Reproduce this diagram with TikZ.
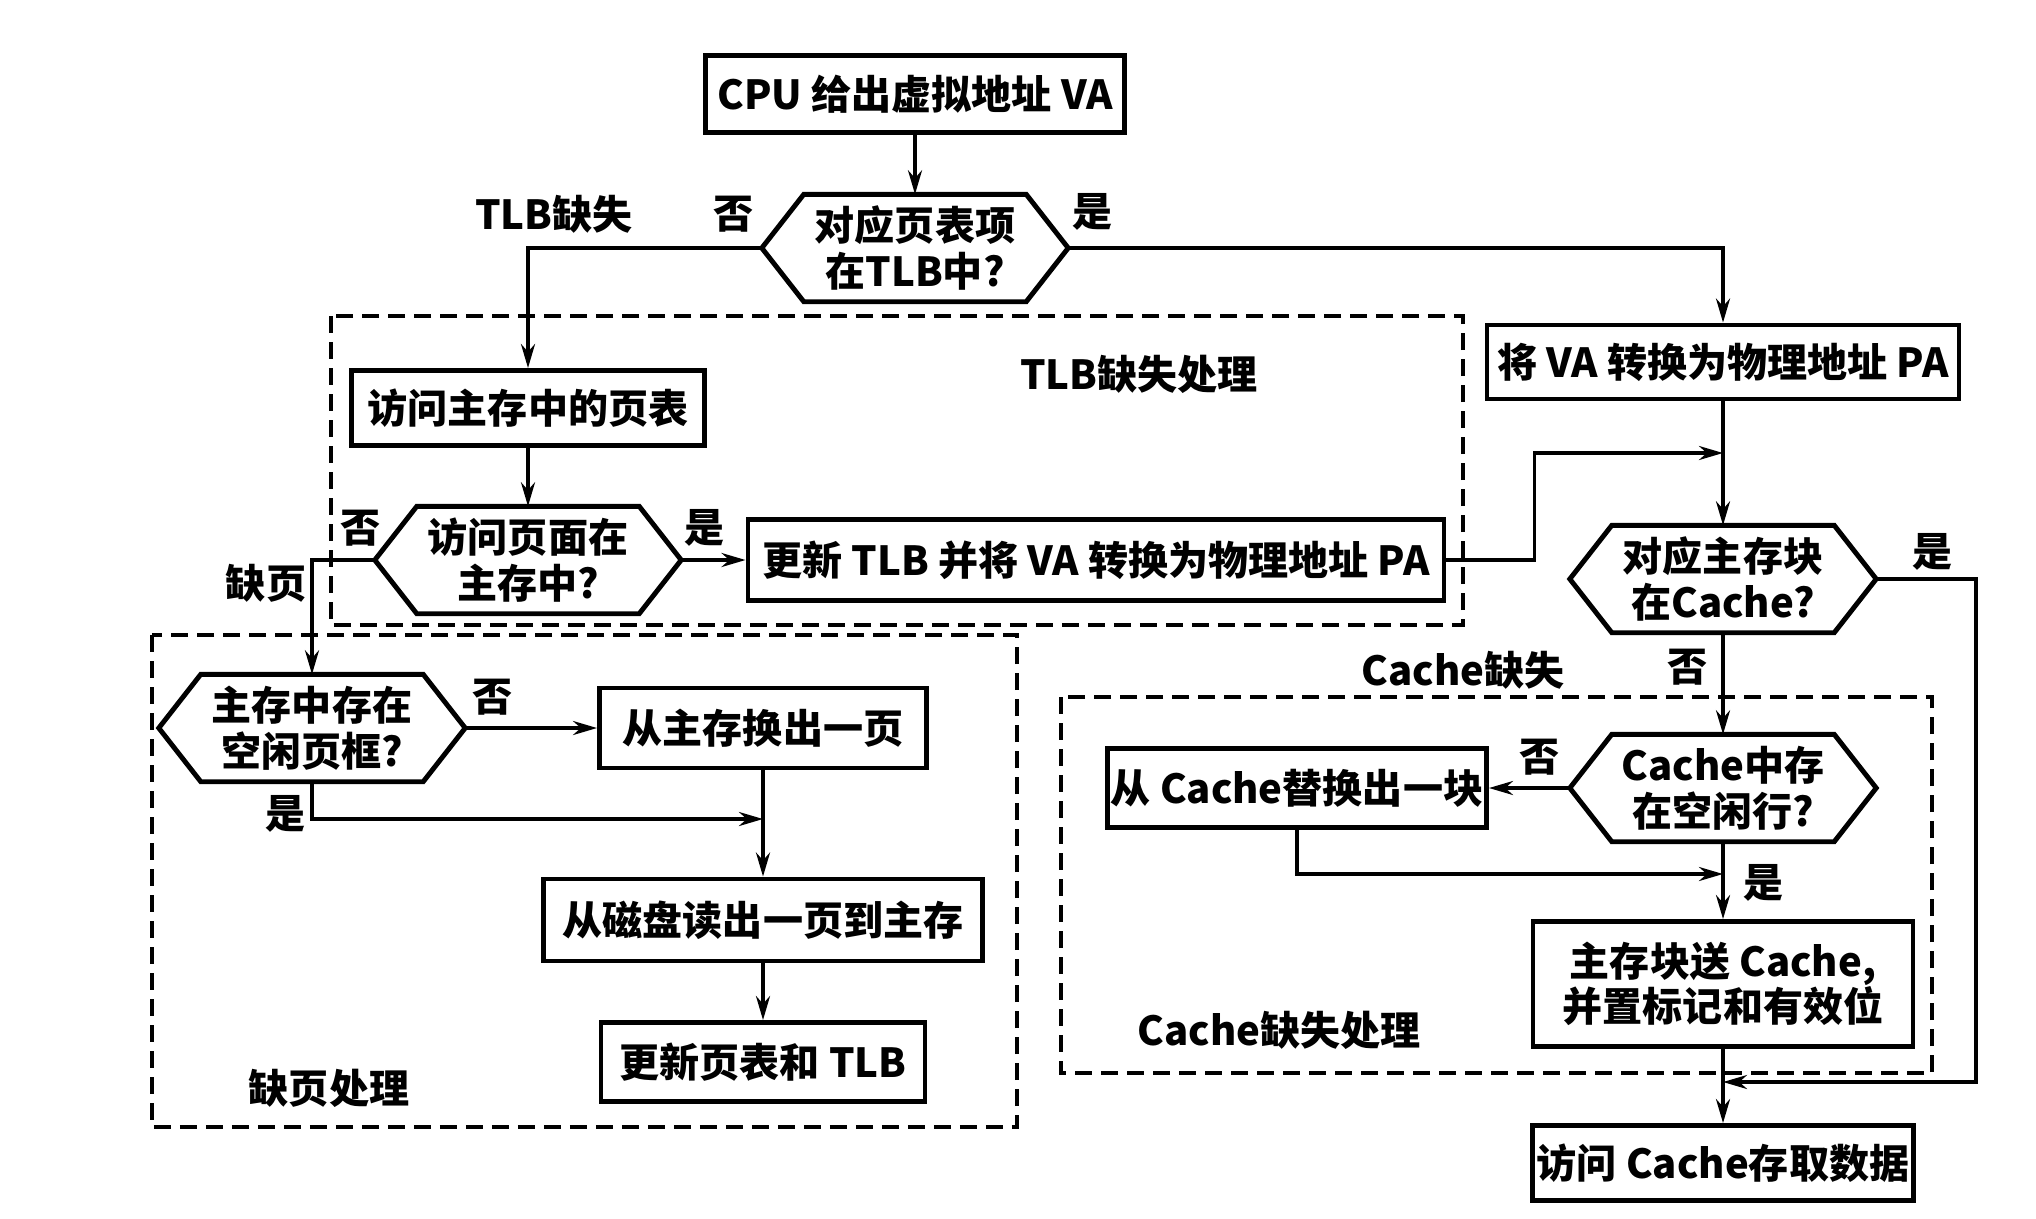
\documentclass[tikz,border=0pt]{standalone}
\usepackage{fontspec}
\setmainfont{Noto Sans CJK SC}
\usetikzlibrary{arrows.meta,calc}
\begin{document}
\begin{tikzpicture}[
  txt/.style={font=\fontsize{11.4}{13}\selectfont\bfseries, align=center, inner sep=0pt},
  box/.style={txt, draw, line width=1.4pt, rectangle},
  dec/.style={txt, rectangle, minimum width=3.05cm, minimum height=1.06cm},
  conn/.style={line width=1.0pt, -{Stealth[length=0.24cm,width=0.14cm]}},
  grp/.style={draw, line width=1.1pt, dash pattern=on 0.17cm off 0.09cm},
  lbl/.style={txt}
]
\useasboundingbox (0,0) rectangle (20.36,-12.18);

% dashed groups
\draw[grp] (3.31,-3.16) rectangle (14.63,-6.25);
\draw[grp] (1.52,-6.35) rectangle (10.17,-11.27);
\draw[grp] (10.61,-6.97) rectangle (19.32,-10.73);

% nodes
\node[box, minimum width=4.19cm, minimum height=0.77cm] (cpu) at (9.15,-0.94) {CPU 给出虚拟地址 VA};
\node[dec] (d1) at (9.15,-2.48) {对应页表项\\在TLB中?};
\node[box, minimum width=3.53cm, minimum height=0.75cm] (ptab) at (5.28,-4.08) {访问主存中的页表};
\node[box, minimum width=4.72cm, minimum height=0.74cm] (va) at (17.23,-3.62) {将 VA 转换为物理地址 PA};
\node[dec] (d2) at (5.28,-5.60) {访问页面在\\主存中?};
\node[box, minimum width=6.96cm, minimum height=0.81cm] (upd) at (10.96,-5.60) {更新 TLB 并将 VA 转换为物理地址 PA};
\node[dec] (d3) at (17.23,-5.79) {对应主存块\\在Cache?};
\node[dec] (d4) at (3.12,-7.28) {主存中存在\\空闲页框?};
\node[box, minimum width=3.27cm, minimum height=0.80cm] (swap) at (7.63,-7.28) {从主存换出一页};
\node[box, minimum width=4.39cm, minimum height=0.82cm] (disk) at (7.63,-9.20) {从磁盘读出一页到主存};
\node[box, minimum width=3.24cm, minimum height=0.79cm] (updpt) at (7.63,-10.62) {更新页表和 TLB};
\node[dec] (d5) at (17.23,-7.88) {Cache中存\\在空闲行?};
\node[box, minimum width=3.79cm, minimum height=0.79cm] (crep) at (12.97,-7.88) {从 Cache替换出一块};
\node[box, minimum width=3.80cm, minimum height=1.25cm] (send) at (17.23,-9.84) {主存块送 Cache,\\并置标记和有效位};
\node[box, minimum width=3.81cm, minimum height=0.75cm] (acc) at (17.23,-11.63) {访问 Cache存取数据};

% hexagons
\foreach \n in {d1,d2,d3,d4,d5}
  \draw[line width=1.4pt, line join=miter] (\n.west) -- ([xshift=0.42cm]\n.north west) -- ([xshift=-0.42cm]\n.north east) -- (\n.east) -- ([xshift=-0.42cm]\n.south east) -- ([xshift=0.42cm]\n.south west) -- cycle;

% join coordinates
\coordinate (j1) at (17.23,-4.53);
\coordinate (j2) at (7.63,-8.19);
\coordinate (j3) at (17.23,-8.74);
\coordinate (j4) at (17.23,-10.82);

% connectors
\draw[conn] (cpu.south) -- (d1.north);
\draw[conn] (d1.west) -| (ptab.north);
\draw[conn] (d1.east) -| (va.north);
\draw[conn] (ptab.south) -- (d2.north);
\draw[conn] (d2.east) -- (upd.west);
\draw[conn] (upd.east) -- ++(0.88,0) |- (j1);
\draw[conn] (va.south) -- (d3.north);
\draw[conn] (d2.west) -| (d4.north);
\draw[conn] (d4.east) -- (swap.west);
\draw[conn] (d4.south) |- (j2);
\draw[conn] (swap.south) -- (disk.north);
\draw[conn] (disk.south) -- (updpt.north);
\draw[conn] (d3.south) -- (d5.north);
\draw[conn] (d5.west) -- (crep.east);
\draw[conn] (crep.south) |- (j3);
\draw[conn] (d5.south) -- (send.north);
\draw[conn] (send.south) -- (acc.north);
\draw[conn] (d3.east) -- ++(1.0,0) |- (j4);

% labels
\node[lbl] (l1) at (5.54,-2.14) {TLB缺失};
\node[lbl] (l2) at (7.34,-2.14) {否};
\node[lbl] (l3) at (10.93,-2.12) {是};
\node[lbl] (l4) at (11.39,-3.74) {TLB缺失处理};
\node[lbl] (l5) at (3.61,-5.28) {否};
\node[lbl] (l6) at (7.05,-5.28) {是};
\node[lbl] (l7) at (2.66,-5.83) {缺页};
\node[lbl] (l8) at (4.93,-6.97) {否};
\node[lbl] (l9) at (2.86,-8.14) {是};
\node[lbl] (l10) at (3.29,-10.88) {缺页处理};
\node[lbl] (l11) at (19.32,-5.52) {是};
\node[lbl] (l12) at (16.88,-6.67) {否};
\node[lbl] (l13) at (14.63,-6.70) {Cache缺失};
\node[lbl] (l14) at (15.40,-7.57) {否};
\node[lbl] (l15) at (17.63,-8.83) {是};
\node[lbl] (l16) at (12.79,-10.30) {Cache缺失处理};
\end{tikzpicture}
\end{document}
